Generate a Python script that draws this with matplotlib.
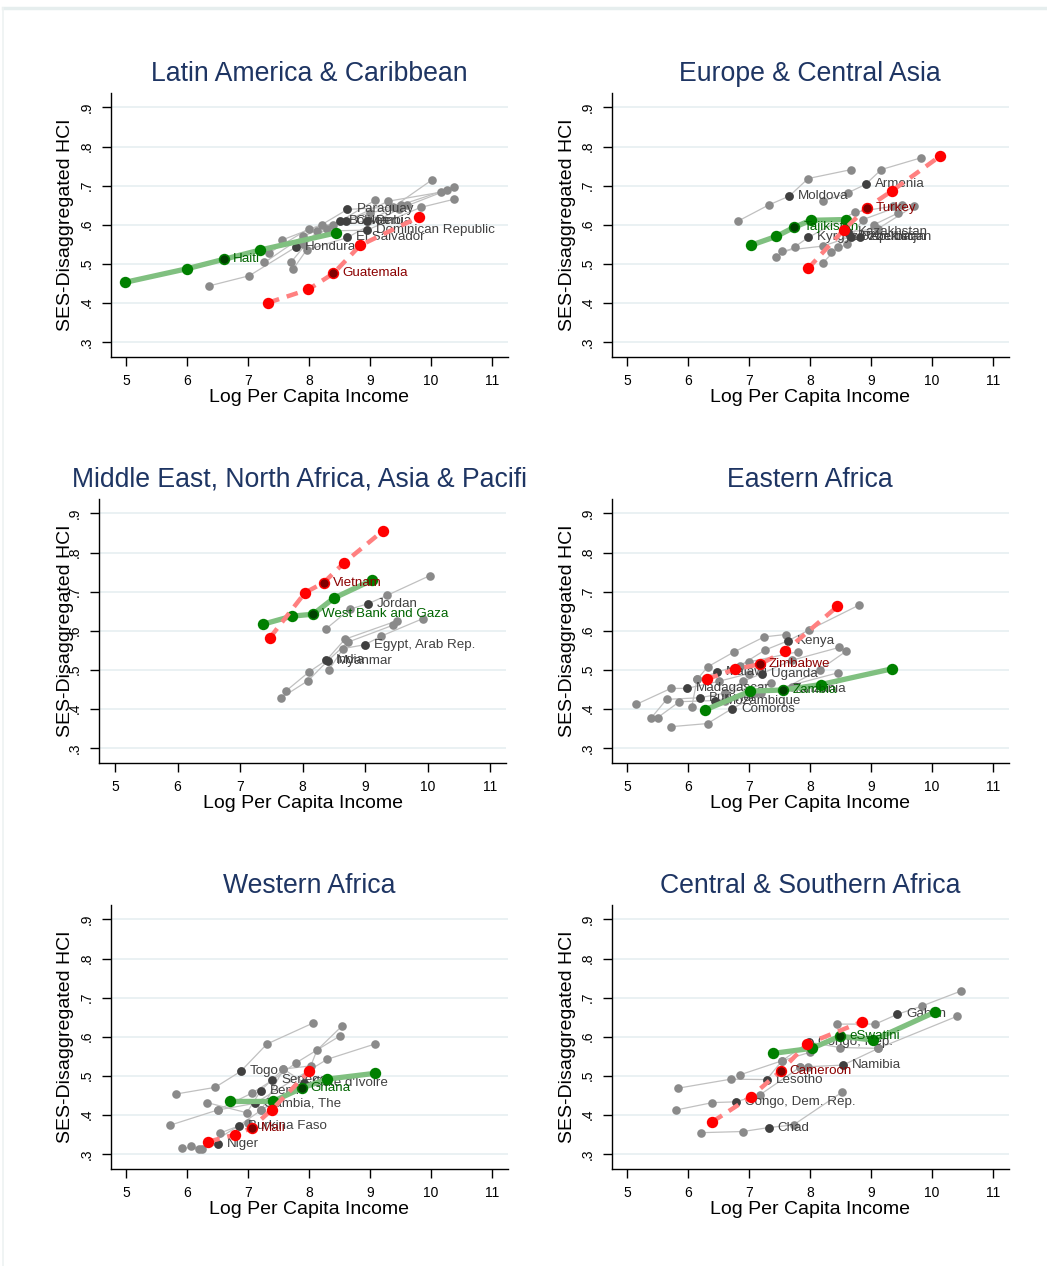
import matplotlib
matplotlib.use('Agg')
import matplotlib.pyplot as plt
from matplotlib.lines import Line2D

plt.rcParams['font.family'] = ['Liberation Sans', 'DejaVu Sans']

# ---------------- DATA ----------------
# Latin America & Caribbean
lac_gray_x = [[6.36, 7.02, 7.79, 8.29, 9.08],
              [7.74, 7.96, 8.63, 9.47, 10.26],
              [7.70, 8.13, 8.95, 9.83, 10.38],
              [7.55, 8.21, 8.63, 9.38, 10.02],
              [7.27, 7.90, 8.50, 9.00, 9.60],
              [7.35, 8.00, 8.61, 9.30, 10.16],
              [7.90, 8.40, 8.95, 9.50, 10.38]]
lac_gray_y = [[.443, .469, .543, .588, .662],
              [.486, .535, .567, .640, .688],
              [.503, .583, .586, .644, .665],
              [.560, .600, .639, .645, .715],
              [.503, .570, .609, .630, .650],
              [.528, .590, .609, .660, .683],
              [.550, .600, .609, .650, .696]]
lac_gray_lab = ["Honduras", "El Salvador", "Dominican Republic", "Paraguay",
                "Bolivia", "Colombia", "Peru"]
lac_green_x = [4.98, 6.00, 6.60, 7.20, 8.45]
lac_green_y = [.452, .487, .511, .535, .579]
lac_green_lab = "Haiti"
lac_red_x = [7.33, 7.99, 8.40, 8.84, 9.81]
lac_red_y = [.400, .434, .475, .547, .620]
lac_red_lab = "Guatemala"

# Europe & Central Asia
eca_gray_x = [[6.82, 7.32, 7.66, 7.97, 8.68],
              [8.21, 8.63, 8.91, 9.17, 9.82],
              [7.45, 7.75, 7.97, 8.74, 9.36],
              [7.54, 8.21, 8.67, 8.87, 9.50],
              [8.21, 8.46, 8.63, 9.12, 9.70],
              [8.35, 8.60, 8.82, 9.05, 9.45]]
eca_gray_y = [[.609, .650, .673, .718, .741],
              [.660, .682, .703, .741, .771],
              [.518, .543, .567, .632, .647],
              [.533, .545, .569, .613, .649],
              [.502, .542, .581, .590, .647],
              [.530, .550, .567, .600, .630]]
eca_gray_lab = ["Moldova", "Armenia", "Kyrgyz Republic", "Uzbekistan",
                "Kazakhstan", "Azerbaijan"]
eca_green_x = [7.03, 7.45, 7.74, 8.01, 8.59]
eca_green_y = [.547, .570, .593, .611, .613]
eca_green_lab = "Tajikistan"
eca_red_x = [7.97, 8.55, 8.93, 9.34, 10.13]
eca_red_y = [.488, .586, .643, .686, .775]
eca_red_lab = "Turkey"

# Middle East, North Africa, Asia & Pacific
mna_gray_x = [[8.38, 8.76, 9.05, 9.35, 10.04],
              [8.42, 8.65, 9.00, 9.26, 9.93],
              [7.74, 8.11, 8.38, 8.68, 9.51],
              [7.65, 8.09, 8.40, 8.72, 9.45]]
mna_gray_y = [[.605, .655, .669, .690, .741],
              [.499, .554, .564, .586, .631],
              [.446, .495, .524, .578, .625],
              [.427, .472, .522, .570, .614]]
mna_gray_lab = ["Jordan", "Egypt, Arab Rep.", "India", "Myanmar"]
mna_green_x = [7.36, 7.83, 8.17, 8.50, 9.11]
mna_green_y = [.616, .637, .642, .683, .729]
mna_green_lab = "West Bank and Gaza"
mna_red_x = [7.48, 8.04, 8.34, 8.66, 9.29]
mna_red_y = [.582, .697, .723, .773, .856]
mna_red_lab = "Vietnam"

# Eastern Africa
eaf_gray_x = [[6.85, 7.26, 7.64, 7.99, 8.80],
              [5.15, 5.72, 5.98, 6.50, 7.00],
              [5.40, 5.65, 6.19, 6.60, 7.36],
              [5.50, 5.86, 6.45, 7.00, 7.70],
              [5.72, 6.32, 6.72, 7.20, 8.46],
              [6.06, 6.15, 6.47, 7.00, 7.81],
              [6.60, 6.90, 7.21, 7.70, 8.48],
              [6.15, 6.32, 6.75, 7.25, 7.60],
              [6.60, 7.10, 7.56, 8.16, 8.59]]
eaf_gray_y = [[.510, .550, .574, .602, .665],
              [.411, .452, .452, .470, .490],
              [.377, .424, .428, .440, .465],
              [.377, .418, .421, .440, .456],
              [.354, .362, .400, .440, .492],
              [.404, .475, .493, .520, .546],
              [.440, .470, .490, .524, .557],
              [.475, .507, .545, .584, .590],
              [.420, .440, .450, .500, .547]]
eaf_gray_lab = ["Kenya", "Madagascar", "Burundi", "Mozambique", "Comoros",
                "Malawi", "Uganda", "", "Tanzania"]
eaf_green_x = [6.28, 7.02, 7.56, 8.18, 9.34]
eaf_green_y = [.397, .445, .448, .462, .502]
eaf_green_lab = "Zambia"
eaf_red_x = [6.31, 6.77, 7.18, 7.59, 8.45]
eaf_red_y = [.476, .501, .514, .547, .662]
eaf_red_lab = "Zimbabwe"

# Western Africa
waf_gray_x = [[5.82, 6.46, 6.88, 7.31, 8.07],
              [6.50, 7.06, 7.40, 7.79, 8.50],
              [7.22, 7.58, 7.92, 8.13, 8.54],
              [6.33, 6.98, 7.21, 7.58, 8.03],
              [5.72, 6.50, 7.11, 8.30, 9.08],
              [5.91, 6.24, 6.85, 7.22, 7.79],
              [6.07, 6.20, 6.50, 6.54, 7.00]]
waf_gray_y = [[.453, .470, .511, .581, .635],
              [.412, .455, .488, .533, .601],
              [.412, .517, .482, .565, .627],
              [.431, .405, .462, .517, .525],
              [.373, .412, .429, .542, .581],
              [.316, .312, .372, .412, .470],
              [.321, .312, .325, .353, .380]]
waf_gray_lab = ["Togo", "Senegal", "Cote d'Ivoire", "Benin", "Gambia, The",
                "Burkina Faso", "Niger"]
waf_green_x = [6.70, 7.41, 7.88, 8.29, 9.08]
waf_green_y = [.434, .434, .468, .491, .506]
waf_green_lab = "Ghana"
waf_red_x = [6.35, 6.79, 7.06, 7.39, 8.00]
waf_red_y = [.331, .349, .366, .413, .511]
waf_red_lab = "Mali"

# Central & Southern Africa
csa_gray_x = [[8.45, 9.07, 9.43, 9.83, 10.48],
              [6.85, 7.54, 7.98, 8.49, 9.12],
              [7.83, 7.97, 8.54, 9.12, 10.41],
              [5.84, 6.70, 7.29, 7.54, 8.00],
              [5.80, 6.40, 6.78, 7.18, 7.83],
              [6.21, 6.90, 7.32, 7.73, 8.52]]
csa_gray_y = [[.632, .632, .657, .678, .717],
              [.502, .538, .586, .572, .570],
              [.521, .523, .527, .570, .652],
              [.468, .491, .490, .538, .560],
              [.412, .431, .433, .451, .521],
              [.354, .357, .367, .374, .457]]
csa_gray_lab = ["Gabon", "Congo, Rep.", "Namibia", "Lesotho",
                "Congo, Dem. Rep.", "Chad"]
csa_green_x = [7.39, 8.03, 8.49, 9.04, 10.05]
csa_green_y = [.557, .570, .601, .591, .663]
csa_green_lab = "eSwatini"
csa_red_x = [6.40, 7.03, 7.52, 7.95, 8.85]
csa_red_y = [.382, .446, .512, .581, .638]
csa_red_lab = "Cameroon"

titles = ["Latin America & Caribbean", "Europe & Central Asia",
          "Middle East, North Africa, Asia & Pacifi", "Eastern Africa",
          "Western Africa", "Central & Southern Africa"]
yticks = [.3, .4, .5, .6, .7, .8, .9]
ytick_labels = [".3", ".4", ".5", ".6", ".7", ".8", ".9"]
xticks = [5, 6, 7, 8, 9, 10, 11]
xlabel = "Log Per Capita Income"
ylabel = "SES-Disaggregated HCI"

# ---------------- LAYOUT ----------------
W, H = 1047, 1266
fig = plt.figure(figsize=(W / 100, H / 100), dpi=100)
XMIN, XMAX = 4.75, 11.26
YMIN, YMAX = 0.261, 0.937
PH = 264

TITLE_C = '#1e3563'
GRAY_LINE = '#c0c0c0'
GRAY_MK = '#8a8a8a'
DARK = '#404040'

# (left px, top px, px per x unit)
layout = [(110.75, 93, 61), (611.75, 93, 61),
          (99.4, 499, 62.5), (611.75, 499, 61),
          (110.75, 905, 61), (611.75, 905, 61)]

panels = [
    (lac_gray_x, lac_gray_y, lac_gray_lab, lac_green_x, lac_green_y, lac_green_lab,
     lac_red_x, lac_red_y, lac_red_lab),
    (eca_gray_x, eca_gray_y, eca_gray_lab, eca_green_x, eca_green_y, eca_green_lab,
     eca_red_x, eca_red_y, eca_red_lab),
    (mna_gray_x, mna_gray_y, mna_gray_lab, mna_green_x, mna_green_y, mna_green_lab,
     mna_red_x, mna_red_y, mna_red_lab),
    (eaf_gray_x, eaf_gray_y, eaf_gray_lab, eaf_green_x, eaf_green_y, eaf_green_lab,
     eaf_red_x, eaf_red_y, eaf_red_lab),
    (waf_gray_x, waf_gray_y, waf_gray_lab, waf_green_x, waf_green_y, waf_green_lab,
     waf_red_x, waf_red_y, waf_red_lab),
    (csa_gray_x, csa_gray_y, csa_gray_lab, csa_green_x, csa_green_y, csa_green_lab,
     csa_red_x, csa_red_y, csa_red_lab),
]

LABEL_FS = 9.6


def label(ax, x, y, txt, color, z):
    ax.annotate(txt, (x, y), xytext=(6.5, 0), textcoords='offset points',
                ha='left', va='center', fontsize=LABEL_FS, color=color, zorder=z)


for i, (lay, data, title) in enumerate(zip(layout, panels, titles)):
    left, top, pxu = lay
    width = (XMAX - XMIN) * pxu
    ax = fig.add_axes([left / W, 1 - (top + PH) / H, width / W, PH / H])
    ax.set_xlim(XMIN, XMAX)
    ax.set_ylim(YMIN, YMAX)
    for s in ['top', 'right']:
        ax.spines[s].set_visible(False)
    for s in ['left', 'bottom']:
        ax.spines[s].set_linewidth(1.0)
    ax.set_xticks(xticks)
    ax.set_xticklabels([str(t) for t in xticks], fontsize=10)
    ax.set_yticks(yticks)
    ax.set_yticklabels(ytick_labels, fontsize=10, rotation=90, va='center')
    ax.tick_params(axis='both', length=6.5, width=1.0, direction='out')
    ax.tick_params(axis='y', pad=6)
    ax.tick_params(axis='x', pad=6)
    ax.grid(axis='y', color='#e8f0f2', lw=1.3, zorder=0)
    ax.set_axisbelow(True)

    gx, gy, glab, grx, gry, grl, rx, ry, rl = data
    for xs, ys in zip(gx, gy):
        ax.plot(xs, ys, color=GRAY_LINE, lw=0.9, zorder=2)
        ax.plot(xs, ys, 'o', color=GRAY_MK, ms=6.2, mec='none', zorder=3)
    for xs, ys, lab in zip(gx, gy, glab):
        if lab:
            ax.plot(xs[2], ys[2], 'o', color=DARK, ms=6.2, mec='none', zorder=4)
            label(ax, xs[2], ys[2], lab, DARK, 5)
    # green highlighted country
    ax.plot(grx, gry, color='#80c080', lw=3.8, solid_capstyle='butt', zorder=6)
    ax.plot(grx, gry, 'o', color='#008000', ms=8.2, mec='none', zorder=7)
    ax.plot(grx[2], gry[2], 'o', color='#004000', ms=6.0, mec='none', zorder=8)
    label(ax, grx[2], gry[2], grl, '#006400', 9)
    # red highlighted country
    ax.plot(rx, ry, color='#ff8080', lw=3.2, ls=(0, (2.6, 1.8)), zorder=10)
    ax.plot(rx, ry, 'o', color='#ff0000', ms=8.2, mec='none', zorder=11)
    ax.plot(rx[2], ry[2], 'o', color='#800000', ms=6.0, mec='none', zorder=12)
    label(ax, rx[2], ry[2], rl, '#8b0000', 13)

    # titles and axis labels
    cx = (left + width / 2) / W
    fig.text(cx if i != 2 else 300 / W, 1 - (top - 19) / H, title, ha='center', va='center',
             fontsize=19.2, color=TITLE_C)
    fig.text(cx, 1 - (top + PH + 41) / H, xlabel, ha='center', va='center',
             fontsize=14, color='black')
    ylx = 65 if i in (0, 2, 4) else 567
    fig.text(ylx / W, 1 - (top + PH / 2) / H, ylabel, ha='center', va='center',
             rotation=90, fontsize=14, color='black')

# faint outer frame of graph region
fig.add_artist(Line2D([3 / W, 1], [1 - 7.5 / H, 1 - 7.5 / H], color='#e6eeee', lw=2.5))
fig.add_artist(Line2D([3 / W, 3 / W], [0, 1 - 7.5 / H], color='#eef2f2', lw=1.2))

fig.savefig('out.png', dpi=100, facecolor='white')
